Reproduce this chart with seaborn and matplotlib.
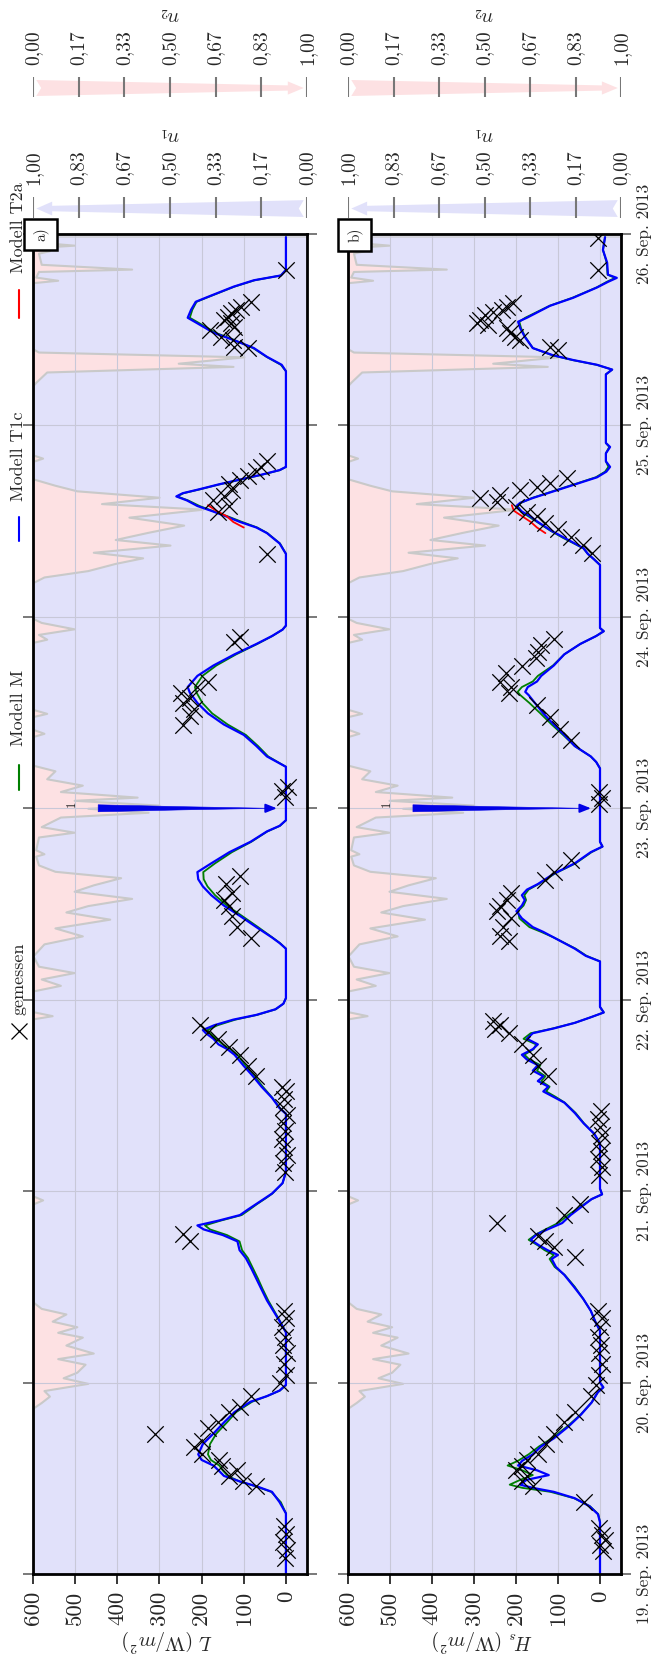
import numpy as np
import matplotlib
matplotlib.use("Agg")
import matplotlib.pyplot as plt
import seaborn as sns
from matplotlib.lines import Line2D
from matplotlib.patches import Polygon, Rectangle

sns.set_theme(style="white")
plt.rcParams.update({
    "font.family": ["cmr10", "DejaVu Serif"],
    "mathtext.fontset": "cm",
    "axes.unicode_minus": False,
    "axes.formatter.use_mathtext": True,
})

# ---------------------------------------------------------------- data
# time is given in hours since 19. Sep. 2013 00:00
DAY_TICKS = [0, 24, 48, 72, 96, 120, 144, 168]
DATE_LABELS = ["19. Sep. 2013", "20. Sep. 2013", "21. Sep. 2013", "22. Sep. 2013",
               "23. Sep. 2013", "24. Sep. 2013", "25. Sep. 2013", "26. Sep. 2013"]
VALUE_TICKS = [600, 500, 400, 300, 200, 100, 0]
N_TICKS = [0, 1 / 6, 2 / 6, 3 / 6, 4 / 6, 5 / 6, 1]
N_LABELS = ["0,00", "0,17", "0,33", "0,50", "0,67", "0,83", "1,00"]
SERIES_NAMES = ["gemessen", "Modell M", "Modell T1c", "Modell T2a"]

# cloud fractions (hour, value)
n1_cover = [(0.0, 1.0), (167.6, 1.0)]
n2_cover = [(0, 0), (20.8, 0), (21.5, 0.03), (22.3, 0.06), (23.0, 0.04), (23.9, 0.2), (24.6, 0.11),
            (25.3, 0.16), (26.3, 0.19), (27.0, 0.09), (27.7, 0.22), (28.7, 0.12), (29.7, 0.18),
            (30.3, 0.09), (31.0, 0.16), (31.7, 0.07), (32.6, 0.12), (33.3, 0.03), (34.1, 0),
            (46.4, 0), (46.9, 0.035), (47.4, 0),
            (69.6, 0), (70.0, 0.07), (70.5, 0), (73.1, 0), (73.8, 0.1), (74.6, 0.03), (75.4, 0.15),
            (76.2, 0.02), (77.5, 0), (79.0, 0.04), (80.0, 0.18), (81.0, 0.08), (82.1, 0.28), (83.0, 0.12),
            (83.8, 0.2), (84.7, 0.36), (85.6, 0.15), (86.4, 0.22), (87.3, 0.32), (88.1, 0.08), (88.9, 0.02),
            (90.0, 0.01), (90.3, 0.04), (90.8, 0.01), (92.4, 0.02), (93.0, 0.15), (93.7, 0.03), (94.9, 0.1),
            (95.5, 0.42), (96.0, 0.2), (96.4, 0.46), (97.0, 0.15), (97.4, 0.38), (98.1, 0.1), (98.9, 0.18),
            (99.7, 0.05), (100.7, 0.08), (101.4, 0),
            (105.0, 0), (105.4, 0.04), (105.9, 0), (107.5, 0), (107.9, 0.05), (108.4, 0),
            (116.8, 0), (117.2, 0.05), (117.8, 0.02), (118.5, 0.15), (119.3, 0.03), (119.8, 0),
            (124.3, 0), (125.0, 0.04), (125.8, 0.2), (126.7, 0.3), (127.4, 0.4), (128.1, 0.22),
            (129.0, 0.5), (129.7, 0.3), (130.6, 0.42), (131.5, 0.55), (132.5, 0.35), (133.5, 0.62),
            (134.2, 0.25), (135.0, 0.46), (135.8, 0.16), (136.5, 0.08), (137.3, 0),
            (139.5, 0), (139.9, 0.035), (140.3, 0),
            (149.0, 0), (149.4, 0.01), (150.7, 0.05), (151.4, 0.73), (151.8, 0.53), (152.6, 0.77),
            (153.2, 0.02), (153.6, 0),
            (161.9, 0), (162.2, 0.09), (162.6, 0.01), (163.3, 0.02), (163.6, 0.36), (164.2, 0.03),
            (165.6, 0.02), (165.9, 0.06), (166.3, 0.01), (166.6, 0.15), (167.0, 0.01), (167.6, 0)]

# panel a: L in W/m^2 (hour, value)
L_meas = [(2.0, 3), (3.0, -2), (4.0, 6), (5.0, 0), (6.0, 4), (11.0, 71), (11.6, 101), (12.3, 134), (13.0, 116),
          (13.6, 152), (14.3, 159), (15.0, 198), (15.9, 218), (16.7, 198), (17.6, 311), (18.3, 185),
          (19.0, 160), (20.3, 134), (21.0, 109), (22.3, 84), (23.9, 15),
          (25.0, 0), (26.3, 5), (27.7, -3), (28.7, 8), (29.7, 2), (31.0, 10), (32.1, 0), (33.0, 5),
          (41.7, 228), (42.6, 243), (50.4, 3), (51.5, 8), (52.5, -2), (53.5, 5), (54.5, 10), (55.5, 2),
          (56.5, 6), (57.5, -3), (58.5, 8), (59.5, 4), (60.5, 1), (61.0, 10),
          (62.4, 71), (63.7, 91), (65.1, 109), (66.1, 134), (67.1, 160), (68.0, 185), (68.8, 203),
          (79.8, 84), (81.1, 116), (82.5, 127), (83.8, 134), (84.5, 147), (85.4, 127), (86.5, 142), (87.5, 109),
          (97.4, 3), (98.2, 10), (98.7, -5), (106.5, 243), (107.6, 228), (108.5, 218), (109.2, 243),
          (109.8, 228), (110.5, 248), (111.2, 210), (111.8, 185), (116.9, 122), (117.5, 109),
          (127.9, 46), (133.2, 160), (133.9, 134), (134.6, 172), (135.2, 147), (135.9, 127), (136.6, 134),
          (137.2, 109), (137.6, 91), (138.3, 71), (138.8, 58), (139.6, 46),
          (153.7, 90), (153.8, 124), (154.7, 126), (155.1, 155), (156.0, 179), (156.3, 124), (156.8, 131),
          (157.2, 148), (157.6, 138), (158.1, 131), (158.5, 119), (158.8, 107), (159.5, 83), (163.5, 0)]

L_M = [(0, 0), (7.6, 0), (9.0, 12), (10.3, 35), (11.0, 72), (11.6, 110), (12.3, 138), (13.0, 150), (13.6, 158),
       (14.3, 178), (15.0, 185), (16.3, 180), (17.6, 165), (19.0, 140), (20.3, 118), (21.6, 80), (22.3, 45),
       (23.0, 14), (23.7, 0),
       (30.3, 0), (31.7, 14), (33.0, 28), (34.3, 42), (35.7, 55), (37.0, 66), (38.3, 78), (39.6, 90),
       (40.6, 104), (41.7, 110), (42.5, 140), (43.2, 180), (43.7, 192), (44.3, 155), (45.0, 105), (45.7, 86),
       (46.4, 68), (47.1, 48), (47.7, 32), (49.0, 8), (50.4, 0),
       (57.7, 0), (58.4, 14), (59.7, 32), (61.1, 55), (62.4, 74), (63.7, 95), (65.1, 115), (65.8, 132),
       (66.4, 150), (67.1, 165), (67.8, 180), (68.2, 186), (68.8, 162), (69.5, 120), (70.1, 68), (70.8, 24),
       (71.5, 6), (72.2, 0),
       (78.4, 0), (79.1, 14), (79.8, 32), (81.1, 66), (82.5, 104), (83.8, 140), (85.1, 168), (86.2, 186),
       (87.1, 195), (88.0, 196), (89.1, 168), (90.5, 128), (91.8, 82), (93.1, 44), (93.8, 14), (94.5, 0),
       (101.2, 0), (102.5, 42), (103.8, 66), (105.2, 95), (106.5, 138), (107.9, 175), (109.2, 198),
       (110.5, 212), (111.2, 216), (112.6, 198), (113.9, 165), (115.3, 118), (116.6, 68), (117.6, 32),
       (118.4, 8), (118.9, 0),
       (127.9, 0), (129.2, 14), (130.5, 44), (131.2, 68), (131.9, 104), (132.6, 138), (133.2, 170),
       (133.9, 205), (134.6, 232), (135.1, 258), (135.5, 243), (136.0, 203), (136.6, 158), (137.2, 108),
       (137.8, 58), (138.4, 14), (138.8, 0),
       (150.8, 0), (151.6, 12), (152.6, 46), (153.7, 78), (154.7, 122), (155.6, 166), (156.8, 205),
       (157.5, 228), (158.5, 222), (159.5, 212), (160.1, 184), (161.4, 122), (162.2, 74), (162.8, 12),
       (163.5, 0), (167.6, 0)]

L_T1c = [(0, 0), (7.6, 0), (9.0, 15), (10.3, 33), (11.0, 70), (11.6, 109), (12.3, 147), (13.0, 160), (13.6, 172),
         (14.3, 200), (15.0, 208), (16.3, 197), (17.6, 172), (19.0, 147), (20.3, 122), (21.6, 84), (22.3, 45),
         (23.0, 15), (23.7, 0),
         (30.3, 0), (31.7, 15), (33.0, 30), (34.3, 45), (35.7, 58), (37.0, 70), (38.3, 82), (39.6, 95),
         (40.6, 110), (41.7, 115), (42.5, 150), (43.2, 195), (43.7, 210), (44.3, 160), (45.0, 109), (45.7, 90),
         (46.4, 70), (47.1, 50), (47.7, 33), (49.0, 8), (50.4, 0),
         (57.7, 0), (58.4, 15), (59.7, 33), (61.1, 58), (62.4, 78), (63.7, 100), (65.1, 122), (65.8, 139),
         (66.4, 160), (67.1, 172), (67.8, 190), (68.2, 197), (68.8, 170), (69.5, 125), (70.1, 70), (70.8, 25),
         (71.5, 6), (72.2, 0),
         (78.4, 0), (79.1, 15), (79.8, 33), (81.1, 70), (82.5, 109), (83.8, 147), (85.1, 177), (86.2, 197),
         (87.1, 208), (88.0, 210), (89.1, 177), (90.5, 134), (91.8, 84), (93.1, 45), (93.8, 15), (94.5, 0),
         (101.2, 0), (102.5, 45), (103.8, 70), (105.2, 100), (106.5, 147), (107.9, 185), (109.2, 210),
         (110.5, 228), (111.2, 233), (112.6, 210), (113.9, 172), (115.3, 122), (116.6, 70), (117.6, 33),
         (118.4, 8), (118.9, 0),
         (127.9, 0), (129.2, 15), (130.5, 45), (131.2, 70), (131.9, 109), (132.6, 142), (133.2, 172),
         (133.9, 210), (134.6, 235), (135.1, 260), (135.5, 245), (136.0, 205), (136.6, 160), (137.2, 110),
         (137.8, 60), (138.4, 15), (138.8, 0),
         (150.8, 0), (151.6, 10), (152.6, 45), (153.7, 76), (154.7, 124), (155.6, 171), (156.8, 210),
         (157.5, 233), (158.5, 225), (159.5, 214), (160.1, 186), (161.4, 124), (162.2, 76), (162.8, 12),
         (163.5, 0), (167.6, 0)]

L_T2a = [(131.2, 100), (131.9, 125), (132.6, 140), (133.3, 165), (134.0, 185)]

# panel b: H_s in W/m^2 (hour, value)
H_meas = [(2.9, -6), (3.6, 0), (4.3, -11), (4.9, -4), (5.8, 3), (9.0, 39), (11.0, 160), (11.6, 186), (12.3, 174),
          (13.0, 199), (13.6, 186), (14.3, 174), (15.0, 148), (16.3, 128), (17.6, 110), (19.0, 85), (20.3, 60),
          (22.3, 22), (23.7, 9),
          (25.0, 2), (26.3, -4), (27.7, 3), (28.7, -2), (29.7, 5), (31.0, 0), (32.1, -5), (33.0, 4),
          (39.7, 60), (41.0, 110), (41.7, 130), (42.4, 148), (44.0, 245), (45.0, 85), (46.4, 47),
          (50.0, 2), (51.0, -4), (52.0, 5), (53.0, -2), (54.0, 3), (55.0, -5), (56.0, 0), (57.0, 4), (58.0, -3),
          (62.4, 123), (63.7, 148), (65.1, 160), (66.4, 186), (67.8, 216), (68.3, 250), (68.8, 237), (69.3, 255),
          (79.4, 216), (80.0, 237), (81.1, 230), (82.2, 211), (83.1, 245), (83.8, 237), (84.5, 222), (85.4, 211),
          (87.0, 130), (88.0, 110), (89.5, 70),
          (96.5, 2), (97.3, -5), (98.0, 3), (104.5, 70), (106.0, 95), (107.5, 120), (109.0, 150), (110.5, 216),
          (111.2, 211), (111.8, 237), (112.9, 224), (113.9, 186), (114.8, 153), (115.6, 148), (116.5, 141),
          (117.2, 110),
          (128.0, 20), (129.0, 40), (130.0, 70), (131.0, 100), (131.8, 130), (132.6, 150), (133.2, 175),
          (133.8, 200), (134.4, 245), (134.9, 286), (135.3, 238), (135.9, 190), (136.3, 150), (136.8, 119),
          (137.4, 79),
          (153.5, 100), (153.8, 119), (154.7, 190), (155.1, 202), (155.6, 214), (156.2, 221), (156.6, 267),
          (156.8, 293), (157.2, 286), (157.9, 274), (158.2, 255), (158.5, 233), (158.9, 221), (159.4, 207),
          (163.5, 5), (167.5, 5)]

H_M = [(0, 0), (6.5, 0), (7.5, 4), (8.5, 24), (9.5, 62), (10.3, 118), (10.8, 185), (11.2, 215), (11.8, 190),
       (12.4, 160), (13.0, 185), (13.6, 220), (14.2, 195), (15.0, 170), (16.0, 145), (17.0, 115), (18.5, 78),
       (20.0, 46), (21.5, 20), (22.8, 5), (23.4, -8), (24.0, 0),
       (30.5, 0), (31.5, 10), (33.0, 22), (34.5, 40), (36.0, 60), (37.5, 84), (38.5, 108), (39.5, 120),
       (40.0, 110), (40.6, 132), (41.2, 148), (41.9, 170), (42.6, 152), (43.2, 130), (44.0, 100), (45.0, 76),
       (46.0, 48), (47.0, 20), (47.6, -5), (48.3, 0),
       (54.0, 0), (55.2, 14), (56.5, 38), (57.8, 58), (59.1, 84), (59.8, 105), (60.5, 128), (61.1, 120),
       (61.8, 140), (62.4, 130), (63.1, 150), (63.8, 142), (64.5, 168), (65.1, 180), (65.8, 158), (66.4, 152),
       (67.1, 182), (67.8, 165), (68.4, 112), (69.1, 60), (69.8, 22), (70.4, -9), (71.1, 0),
       (76.8, 0), (77.5, 32), (78.4, 58), (79.1, 84), (79.8, 110), (80.5, 140), (81.1, 168), (82.2, 192),
       (83.1, 195), (83.8, 182), (84.5, 176), (85.1, 180), (85.8, 170), (86.5, 146), (87.8, 108), (89.1, 58),
       (90.5, 20), (91.2, -6), (91.8, 0),
       (101.0, 0), (101.8, 9), (102.5, 22), (103.8, 60), (105.2, 88), (106.5, 115), (107.9, 142), (109.2, 168),
       (110.2, 190), (110.6, 196), (111.2, 186), (111.9, 160), (112.6, 148), (113.9, 112), (115.3, 85),
       (116.6, 47), (117.6, 9), (118.2, -9), (118.6, 0),
       (126.5, 0), (127.2, 14), (127.9, 29), (128.6, 40), (129.2, 62), (129.9, 88), (130.8, 118), (131.9, 150),
       (132.6, 170), (133.2, 188), (133.9, 196), (134.3, 188), (134.9, 162), (136.0, 98), (137.5, 10),
       (138.2, -12), (138.8, -20), (139.5, -14),
       (140.5, -14), (141.3, -22), (141.8, -14), (150.4, -14), (151.0, -29), (151.6, 8), (152.2, 66),
       (152.8, 114), (153.7, 160), (155.1, 178), (156.2, 188), (157.0, 192), (157.5, 178), (159.0, 120),
       (160.0, 66), (161.3, 8), (162.0, -16), (162.5, -36), (162.9, -18), (164.4, -16), (166.0, -7),
       (167.6, -12)]

H_T1c = [(0, 0), (6.5, 0), (7.5, 5), (8.5, 25), (9.5, 60), (10.3, 110), (10.8, 160), (11.2, 190), (11.8, 175),
         (12.4, 122), (13.0, 150), (13.6, 195), (14.2, 185), (15.0, 160), (16.0, 140), (17.0, 110), (18.5, 75),
         (20.0, 45), (21.5, 20), (22.8, 5), (23.4, -8), (24.0, 0),
         (30.5, 0), (31.5, 10), (33.0, 22), (34.5, 40), (36.0, 62), (37.5, 85), (38.5, 105), (39.5, 115),
         (40.0, 100), (40.6, 125), (41.2, 145), (41.9, 165), (42.6, 150), (43.2, 125), (44.0, 90), (45.0, 70),
         (46.0, 45), (47.0, 20), (47.6, -5), (48.3, 0),
         (54.0, 0), (55.2, 14), (56.5, 39), (57.8, 60), (59.1, 85), (59.8, 110), (60.5, 135), (61.1, 123),
         (61.8, 148), (62.4, 135), (63.1, 160), (63.8, 148), (64.5, 174), (65.1, 186), (65.8, 160), (66.4, 148),
         (67.1, 174), (67.8, 160), (68.4, 110), (69.1, 60), (69.8, 22), (70.4, -9), (71.1, 0),
         (76.8, 0), (77.5, 34), (78.4, 60), (79.1, 85), (79.8, 110), (80.5, 135), (81.1, 160), (82.2, 186),
         (83.1, 199), (83.8, 186), (84.5, 179), (85.1, 186), (85.8, 174), (86.5, 148), (87.8, 110), (89.1, 60),
         (90.5, 22), (91.2, -6), (91.8, 0),
         (101.0, 0), (101.8, 9), (102.5, 22), (103.8, 60), (105.2, 85), (106.5, 110), (107.9, 135), (109.2, 155),
         (110.2, 170), (110.6, 178), (111.2, 172), (111.9, 150), (112.6, 140), (113.9, 110), (115.3, 85),
         (116.6, 47), (117.6, 9), (118.2, -9), (118.6, 0),
         (126.5, 0), (127.2, 14), (127.9, 29), (128.6, 39), (129.2, 60), (129.9, 85), (130.8, 116), (131.9, 148),
         (132.6, 166), (133.2, 186), (133.9, 199), (134.3, 190), (134.9, 160), (136.0, 95), (137.5, 7),
         (138.2, -15), (138.8, -24), (139.5, -14),
         (140.5, -14), (141.3, -24), (141.8, -14), (150.4, -14), (151.0, -29), (151.6, 7), (152.2, 64),
         (152.8, 112), (153.7, 160), (155.1, 179), (156.2, 190), (157.0, 195), (157.5, 174), (159.0, 119),
         (160.0, 64), (161.3, 7), (162.0, -19), (162.5, -40), (162.9, -19), (164.4, -17), (166.0, -7),
         (167.6, -12)]

H_T2a = [(130.5, 130), (131.2, 150), (131.9, 165), (132.6, 185), (133.3, 205), (134.0, 210)]

# tapered marker arrow at 23 Sep with its label
ARROW_HOUR = 96.0
ARROW_FROM = 452
ARROW_TO = 15
ARROW_TEXT = "1"
ARROW_TEXT_POS = (508, 96.6)

# ---------------------------------------------------------------- style
LAVENDER = "#e1e1fa"
PINK = "#fde1e3"
EDGE_GREY = "#c9c9c9"
GRID = "#c8c8d8"
C_M, C_T1C, C_T2A = "#007f00", "#0000ff", "#ff0000"

W, H = 651, 1671
fig = plt.figure(figsize=(W / 100, H / 100), dpi=100)


def rect(l, t, r, b):
    return [l / W, 1 - b / H, (r - l) / W, (b - t) / H]


def xy(series):
    arr = np.array(series, dtype=float)
    return arr[:, 0], arr[:, 1]


def draw_panel(box, meas, sim_m, sim_t1c, sim_t2a, xlabel, tag, tag_box, show_dates):
    # cloud fraction backgrounds (n1 from the right edge, n2 from the left edge)
    bg1 = fig.add_axes(box, zorder=-2)
    bg1.set_xlim(1, 0)
    bg1.set_ylim(0, 168)
    bg1.axis("off")
    h1, v1 = xy(n1_cover)
    bg1.fill_betweenx(h1, 0, v1, facecolor=LAVENDER, edgecolor="#d2d2dc", linewidth=1.3)

    bg2 = fig.add_axes(box, zorder=-1)
    bg2.set_xlim(0, 1)
    bg2.set_ylim(0, 168)
    bg2.axis("off")
    h2, v2 = xy(n2_cover)
    bg2.fill_betweenx(h2, 0, v2, facecolor=PINK, edgecolor=EDGE_GREY, linewidth=1.5)

    ax = fig.add_axes(box, zorder=1)
    ax.patch.set_alpha(0)
    ax.set_axisbelow(True)

    for series, color, lw, z in [(sim_m, C_M, 1.3, 2.0), (sim_t1c, C_T1C, 1.6, 2.2), (sim_t2a, C_T2A, 1.3, 2.4)]:
        h, v = xy(series)
        sns.lineplot(x=v, y=h, orient="y", sort=False, estimator=None, color=color,
                     linewidth=lw, ax=ax, zorder=z)

    hm, vm = xy(meas)
    sns.scatterplot(x=vm, y=hm, marker="x", s=140, color="black", linewidth=0.9, ax=ax, zorder=3)

    # annotation arrow at 23 Sep
    ax.annotate("", xy=(ARROW_TO + 20, ARROW_HOUR), xytext=(ARROW_FROM, ARROW_HOUR),
                arrowprops=dict(arrowstyle="wedge,tail_width=0.42,shrink_factor=0.45",
                                facecolor="#0000e6", edgecolor="#0000e6", linewidth=0.4),
                zorder=4)
    ax.annotate("", xy=(ARROW_TO, ARROW_HOUR), xytext=(ARROW_TO + 40, ARROW_HOUR),
                arrowprops=dict(arrowstyle="-|>,head_length=0.55,head_width=0.22",
                                facecolor="#0000e6", edgecolor="#0000e6", linewidth=1.3),
                zorder=4)
    ax.text(ARROW_TEXT_POS[0], ARROW_TEXT_POS[1], ARROW_TEXT, rotation=90, fontsize=9,
            ha="center", va="center", zorder=5)

    ax.set_xlim(600, -50)
    ax.set_ylim(0, 168)
    ax.set_xticks(VALUE_TICKS)
    ax.set_xticklabels([str(t) for t in VALUE_TICKS], rotation=90)
    ax.tick_params(axis="x", which="major", direction="out", length=7, width=1.1, color="black",
                   labelsize=16.5, pad=5, bottom=True, top=False)
    ax.set_yticks(DAY_TICKS)
    if show_dates:
        ax.set_yticklabels(DATE_LABELS, rotation=90, va="center")
    ax.tick_params(axis="y", which="major", direction="out", length=7, width=1.1, color="#555555",
                   left=True, right=True, labelleft=False, labelright=show_dates, labelsize=12.5, pad=4)
    ax.grid(True, color=GRID, linewidth=0.8)
    for s in ax.spines.values():
        s.set_visible(True)
        s.set_color("black")
        s.set_linewidth(2.0)
    ax.set_xlabel(xlabel, fontsize=14, rotation=180)
    ax.set_ylabel("")
    ax.xaxis.set_label_coords(0.49, -(1641 - 1574) / 1340)
    ax.xaxis.label.set_va("center")

    # panel tag
    l, t, r, b = tag_box
    fig.add_artist(Rectangle((l / W, 1 - b / H), (r - l) / W, (b - t) / H, transform=fig.transFigure,
                             facecolor="white", edgecolor="black", linewidth=1.8, zorder=10))
    fig.text((l + r) / 2 / W, 1 - (t + b) / 2 / H, tag, rotation=90, ha="center", va="center",
             fontsize=11, zorder=11)
    return ax


def draw_scale(box, left_to_right, color, label, top_px, bottom_px, label_px):
    cax = fig.add_axes(box)
    cax.patch.set_alpha(0)
    cax.set_xlim(*left_to_right)
    cax.set_ylim(0, 1)
    for s in cax.spines.values():
        s.set_visible(False)
    # tapered arrow pointing from 0 towards 1
    shape = [(0.012, 0.05), (0.03, 0.45), (0.012, 0.85), (0.93, 0.58), (0.93, 0.78), (0.988, 0.45),
             (0.93, 0.12), (0.93, 0.32)]
    cax.add_patch(Polygon(shape, closed=True, facecolor=color, edgecolor="none", zorder=1))
    cax.vlines(N_TICKS, 0, 1, color="#777777", linewidth=1.5, zorder=2)
    cax.set_yticks([])
    cax.set_xticks(N_TICKS)
    cax.set_xticklabels(N_LABELS, rotation=90)
    cax.tick_params(axis="x", top=True, bottom=False, labeltop=True, labelbottom=False,
                    length=0, pad=8.5, labelsize=14)
    cax.xaxis.set_label_position("top")
    cax.set_xlabel(label, fontsize=14, rotation=180)
    cax.xaxis.set_label_coords(0.5, (bottom_px - label_px) / (bottom_px - top_px))
    cax.xaxis.label.set_va("center")
    cax.grid(False)


ax_a = draw_panel(rect(33, 234, 307, 1574), L_meas, L_M, L_T1c, L_T2a,
                  r"$L$ (W/$m^2$)", "a)", (24, 219, 57, 250), False)
ax_b = draw_panel(rect(348, 234, 621, 1574), H_meas, H_M, H_T1c, H_T2a,
                  r"$H_s$ (W/$m^2$)", "b)", (338, 219, 371, 251), True)

for x0, x1 in [(33, 307), (348, 621)]:
    draw_scale(rect(x0, 77, x1, 97), (0, 1), PINK, r"$n_2$", 77, 97, 14)
    draw_scale(rect(x0, 197, x1, 218), (1, 0), LAVENDER, r"$n_1$", 197, 218, 134)

# legend, laid out along the left margin
LX = 18.5
fig.add_artist(Line2D([LX / W], [1 - 1031 / H], marker="x", markersize=12, markeredgewidth=0.9,
                      color="black", linestyle="none", transform=fig.transFigure))
legend_lines = [(C_M, 765, 790), (C_T1C, 517, 541), (C_T2A, 290, 318)]
for color, y0, y1 in legend_lines:
    fig.add_artist(Line2D([LX / W, LX / W], [1 - y0 / H, 1 - y1 / H], color=color, linewidth=1.5,
                          transform=fig.transFigure))
for name, y_start in zip(SERIES_NAMES, [1015, 746, 501, 273]):
    fig.text(LX / W, 1 - y_start / H, name, rotation=90, rotation_mode="anchor",
             ha="left", va="center", fontsize=13)

fig.savefig("out.png", dpi=100)
